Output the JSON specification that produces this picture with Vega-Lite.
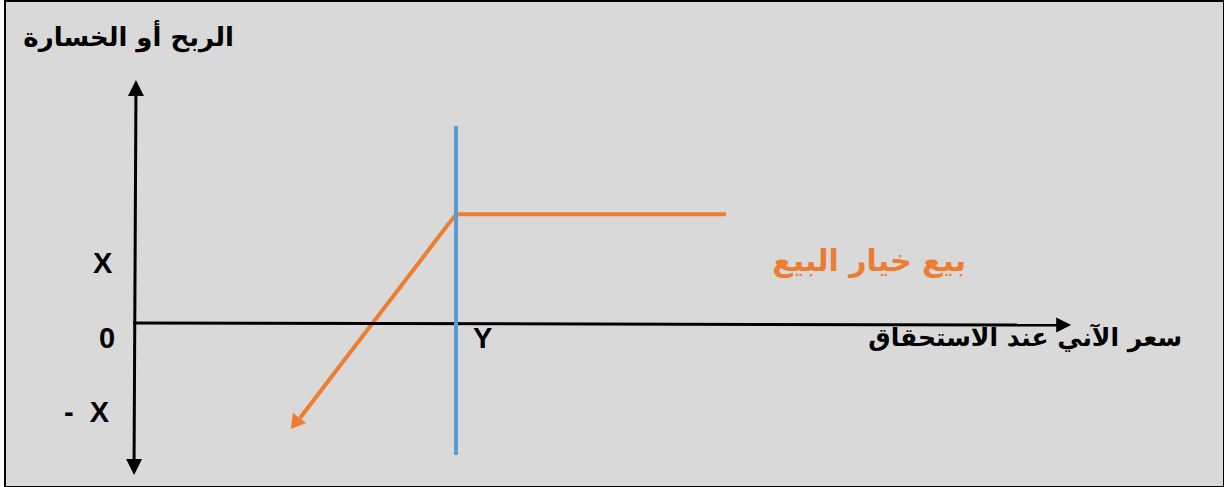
{
  "$schema": "https://vega.github.io/schema/vega-lite/v6.json",
  "width": 1224,
  "height": 487,
  "autosize": {"type": "fit", "contains": "padding"},
  "padding": {"left": 5, "top": 1, "right": 0, "bottom": 0},
  "background": "#ffffff",
  "config": {"view": {"fill": "#d9d9d9", "stroke": "#000000", "strokeWidth": 2}},
  "datasets": {
    "axes": [
      {"seg": "v", "x": 0.3, "y": 212.6, "o": 1},
      {"seg": "v", "x": -0.3, "y": -128.8, "o": 2},
      {"seg": "h", "x": -0.6, "y": 0.9, "o": 1},
      {"seg": "h", "x": 288.2, "y": -0.9, "o": 2}
    ],
    "arrows": [
      {"dir": "up", "x": 0.3, "y": 212.6},
      {"dir": "down", "x": -0.3, "y": -128.8},
      {"dir": "right", "x": 289.3, "y": -0.9},
      {"dir": "downleft", "x": 49.9, "y": -89.6}
    ],
    "strike": [
      {"x": 100, "y": 178.4},
      {"x": 100, "y": -118.0}
    ],
    "payoff": [
      {"x": 51.4, "y": -84.7, "o": 1},
      {"x": 100, "y": 99, "o": 2},
      {"x": 184.1, "y": 99, "o": 3}
    ],
    "latin": [
      {"label": "X", "x": -10.1, "y": 54.5},
      {"label": "0", "x": -8.7, "y": -13.1},
      {"label": "-  X", "x": -15.1, "y": -80.2},
      {"label": "Y", "x": 108.3, "y": -13.1}
    ],
    "arabic": [
      {"label": "الربح أو الخسارة", "x": -2.0, "y": 257.7, "kind": "title"},
      {"label": "سعر الآني عند الاستحقاق", "x": 277.3, "y": -12.6, "kind": "axis"}
    ],
    "series": [
      {"label": "بيع خيار البيع", "x": 228.7, "y": 55.9}
    ]
  },
  "encoding": {
    "x": {"field": "x", "type": "quantitative", "scale": {"domain": [-40.5, 339.25], "nice": false, "zero": false}, "axis": null},
    "y": {"field": "y", "type": "quantitative", "scale": {"domain": [-146.8, 291.0], "nice": false, "zero": false}, "axis": null}
  },
  "layer": [
    {
      "data": {"name": "payoff"},
      "mark": {"type": "line", "color": "#ed7d31", "strokeWidth": 4},
      "encoding": {"order": {"field": "o", "type": "quantitative"}}
    },
    {
      "data": {"name": "arrows"},
      "transform": [{"filter": "datum.dir === 'downleft'"}],
      "mark": {"type": "point", "shape": "M0,-1L1.2,1L-1.2,1Z", "size": 196, "angle": 217.7, "filled": true, "color": "#ed7d31", "opacity": 1}
    },
    {
      "data": {"name": "axes"},
      "mark": {"type": "line", "color": "#000000", "strokeWidth": 3},
      "encoding": {"detail": {"field": "seg"}, "order": {"field": "o", "type": "quantitative"}}
    },
    {
      "data": {"name": "arrows"},
      "transform": [{"filter": "datum.dir === 'up'"}],
      "mark": {"type": "point", "shape": "M0,-1L1,1L-1,1Z", "size": 256, "angle": 0, "filled": true, "color": "#000000", "opacity": 1}
    },
    {
      "data": {"name": "arrows"},
      "transform": [{"filter": "datum.dir === 'down'"}],
      "mark": {"type": "point", "shape": "M0,-1L1,1L-1,1Z", "size": 256, "angle": 180, "filled": true, "color": "#000000", "opacity": 1}
    },
    {
      "data": {"name": "arrows"},
      "transform": [{"filter": "datum.dir === 'right'"}],
      "mark": {"type": "point", "shape": "M0,-1L1,1L-1,1Z", "size": 225, "angle": 90, "filled": true, "color": "#000000", "opacity": 1}
    },
    {
      "data": {"name": "strike"},
      "mark": {"type": "line", "color": "#5b9bd5", "strokeWidth": 4}
    },
    {
      "data": {"name": "latin"},
      "transform": [{"filter": "datum.label !== '-  X'"}],
      "mark": {"type": "text", "font": "Liberation Sans", "fontWeight": "bold", "fontSize": 29, "align": "center", "baseline": "middle", "color": "#000000"},
      "encoding": {"text": {"field": "label"}}
    },
    {
      "data": {"name": "latin"},
      "transform": [{"filter": "datum.label === '-  X'"}],
      "mark": {"type": "text", "font": "Liberation Sans", "fontWeight": "bold", "fontSize": 29, "align": "center", "baseline": "middle", "color": "#000000"},
      "encoding": {"text": {"value": "-\u00a0\u00a0X"}}
    },
    {
      "data": {"name": "arabic"},
      "transform": [{"filter": "datum.kind === 'title'"}],
      "mark": {"type": "text", "font": "DejaVu Sans", "fontWeight": "bold", "fontSize": 26, "align": "center", "baseline": "middle", "color": "#000000"},
      "encoding": {"text": {"field": "label"}}
    },
    {
      "data": {"name": "arabic"},
      "transform": [{"filter": "datum.kind === 'axis'"}],
      "mark": {"type": "text", "font": "DejaVu Sans", "fontWeight": "bold", "fontSize": 25, "align": "center", "baseline": "middle", "color": "#000000"},
      "encoding": {"text": {"field": "label"}}
    },
    {
      "data": {"name": "series"},
      "mark": {"type": "text", "font": "DejaVu Sans", "fontWeight": "bold", "fontSize": 30, "align": "center", "baseline": "middle", "color": "#ed7d31"},
      "encoding": {"text": {"field": "label"}}
    }
  ]
}
